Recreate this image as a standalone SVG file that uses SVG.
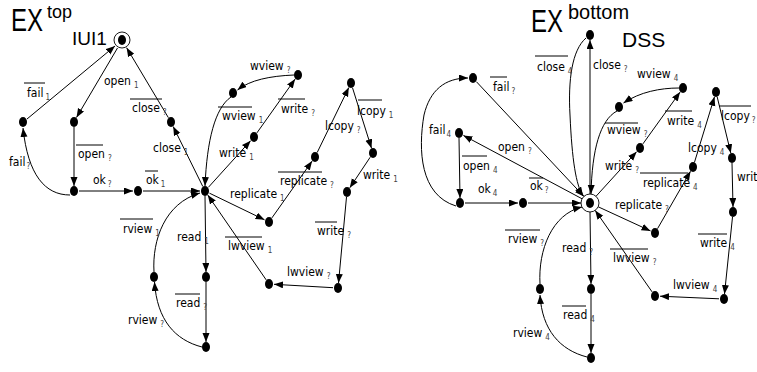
<svg xmlns="http://www.w3.org/2000/svg" width="757" height="372" viewBox="0 0 757 372">
<style>
.n{fill:#000}
.e{fill:none;stroke:#000;stroke-width:1;marker-end:url(#ah)}
.ring{fill:none;stroke:#000;stroke-width:0.9}
.lb{font-family:"Liberation Sans Narrow","Arial Narrow","DejaVu Sans Condensed",sans-serif;font-size:12px;fill:#000}
.sub{font-size:8px;fill:#444}
.ov{stroke:#000;stroke-width:1}
.tt{font-family:"Liberation Sans Narrow","Liberation Sans",Arial,sans-serif;fill:#000}
</style>
<defs>
<marker id="ah" markerWidth="10" markerHeight="8" refX="9" refY="3.5" orient="auto" markerUnits="userSpaceOnUse">
<path d="M0,0 L9,3.5 L0,7 z" fill="#000"/>
</marker>
</defs>
<rect width="757" height="372" fill="#fff"/>
<!-- titles -->
<g id="title-left">
<text class="tt" font-size="32"><tspan x="11" y="31" textLength="32" lengthAdjust="spacingAndGlyphs">EX</tspan><tspan x="47" y="18" font-size="18">top</tspan><tspan x="72" y="45" font-size="19">IUI1</tspan></text>
</g>
<g id="title-right">
<text class="tt" font-size="32"><tspan x="531" y="32" textLength="32" lengthAdjust="spacingAndGlyphs">EX</tspan><tspan x="568" y="19" font-size="20">bottom</tspan><tspan x="622" y="47" font-size="21">DSS</tspan></text>
</g>
<!-- connectors -->
<g id="connectors">
<!-- left -->
<path class="e" d="M27,119 L115,46"/>
<path class="e" d="M117.5,48 L76.5,117.5"/>
<path class="e" d="M168.4,117.7 L126.6,47.7"/>
<path class="e" d="M74,127 L74,186"/>
<path class="e" d="M70,195 C45,195 28,175 23,128"/>
<path class="e" d="M79,191 L133,191"/>
<path class="e" d="M143,191 L200,191"/>
<path class="e" d="M202.8,186.5 L173.2,126.5"/>
<path class="e" d="M231,97 C215,108 207,140 205,186"/>
<path class="e" d="M208.4,187.3 L250.6,140.7"/>
<path class="e" d="M256.9,132.9 L295.1,79.1"/>
<path class="e" d="M294,75 C270,76 250,80 237.5,90"/>
<path class="e" d="M209.5,193.2 L264.5,219.8"/>
<path class="e" d="M271.9,217.9 L312.1,161.1"/>
<path class="e" d="M317.2,152.5 L348.8,87.5"/>
<path class="e" d="M352.5,87.8 L371.5,148.2"/>
<path class="e" d="M370.2,157.2 L349.8,187.8"/>
<path class="e" d="M346.5,197 L338.5,283"/>
<path class="e" d="M333,287.7 L274,284.3"/>
<path class="e" d="M266.2,279.9 L207.8,195.1"/>
<path class="e" d="M205,196 L206,272"/>
<path class="e" d="M206,282 L206,342"/>
<path class="e" d="M202,347 C175,340 157,320 154.5,282"/>
<path class="e" d="M154,272 C152,240 165,203 200,193"/>
<!-- right -->
<path class="e" d="M590,194 L590,40"/>
<path class="e" d="M586,38 C572,50 568,80 570,115 C572,160 576,185 583,196"/>
<path class="e" d="M476.4,81.7 L583.9,196.4"/>
<path class="e" d="M456,206 C420,195 418,150 424,115 C430,90 445,78 468,78"/>
<path class="e" d="M582.1,198.8 L463.4,135.4"/>
<path class="e" d="M459,138 L460,198"/>
<path class="e" d="M465,203 L518,203"/>
<path class="e" d="M528,203 L581,203"/>
<path class="e" d="M617,111 C600,120 592,150 591,194"/>
<path class="e" d="M596,196.3 L636.6,151.7"/>
<path class="e" d="M642.9,143.9 L680.1,92.1"/>
<path class="e" d="M679,88 C660,88 640,92 623.5,103"/>
<path class="e" d="M598.2,206.8 L650.5,230.9"/>
<path class="e" d="M657.5,228.7 L690.5,171.3"/>
<path class="e" d="M694.5,162.2 L714.5,96.8"/>
<path class="e" d="M717.2,96.9 L730.8,153.1"/>
<path class="e" d="M732,163 L733,207"/>
<path class="e" d="M732.5,217 L724.5,294"/>
<path class="e" d="M719,298.8 L660,296.2"/>
<path class="e" d="M652.1,291.9 L595.2,210.4"/>
<path class="e" d="M590,212 L591,284"/>
<path class="e" d="M591,294 L591,353"/>
<path class="e" d="M587,357 C560,350 542,330 540,295"/>
<path class="e" d="M540,284 C538,250 552,214 582,207"/>
</g>
<!-- left nodes -->
<g id="L-init"><circle class="ring" cx="122" cy="40" r="8"/><ellipse class="n" cx="122" cy="40" rx="4" ry="5"/></g>
<g id="L-fail"><ellipse class="n" cx="23" cy="122" rx="4" ry="5"/></g>
<g id="L-open"><ellipse class="n" cx="74" cy="122" rx="4" ry="5"/></g>
<g id="L-close"><ellipse class="n" cx="171" cy="122" rx="4" ry="5"/></g>
<g id="L-ok"><ellipse class="n" cx="74" cy="191" rx="4" ry="5"/></g>
<g id="L-okmid"><ellipse class="n" cx="138" cy="191" rx="4" ry="5"/></g>
<g id="L-hub"><ellipse class="n" cx="205" cy="191" rx="4" ry="5"/></g>
<g id="L-wviewL"><ellipse class="n" cx="233" cy="93" rx="4" ry="5"/></g>
<g id="L-wviewT"><ellipse class="n" cx="298" cy="75" rx="4" ry="5"/></g>
<g id="L-write1"><ellipse class="n" cx="254" cy="137" rx="4" ry="5"/></g>
<g id="L-lcopyT"><ellipse class="n" cx="351" cy="83" rx="4" ry="5"/></g>
<g id="L-repmid"><ellipse class="n" cx="315" cy="157" rx="4" ry="5"/></g>
<g id="L-writeR"><ellipse class="n" cx="373" cy="153" rx="4" ry="5"/></g>
<g id="L-writeR2"><ellipse class="n" cx="347" cy="192" rx="4" ry="5"/></g>
<g id="L-rep"><ellipse class="n" cx="269" cy="222" rx="4" ry="5"/></g>
<g id="L-lwview"><ellipse class="n" cx="269" cy="284" rx="4" ry="5"/></g>
<g id="L-bottomR"><ellipse class="n" cx="338" cy="288" rx="4" ry="5"/></g>
<g id="L-rview"><ellipse class="n" cx="154" cy="277" rx="4" ry="5"/></g>
<g id="L-readmid"><ellipse class="n" cx="206" cy="277" rx="4" ry="5"/></g>
<g id="L-readbot"><ellipse class="n" cx="206" cy="347" rx="4" ry="5"/></g>
<!-- right nodes -->
<g id="R-closeT"><ellipse class="n" cx="590" cy="35" rx="4" ry="5"/></g>
<g id="R-failT"><ellipse class="n" cx="473" cy="78" rx="4" ry="5"/></g>
<g id="R-open"><ellipse class="n" cx="459" cy="133" rx="4" ry="5"/></g>
<g id="R-ok"><ellipse class="n" cx="460" cy="203" rx="4" ry="5"/></g>
<g id="R-okmid"><ellipse class="n" cx="523" cy="203" rx="4" ry="5"/></g>
<g id="R-hub"><circle class="ring" cx="590" cy="203" r="9"/><ellipse class="n" cx="590" cy="203" rx="4" ry="5"/></g>
<g id="R-wviewL"><ellipse class="n" cx="619" cy="107" rx="4" ry="5"/></g>
<g id="R-wviewT"><ellipse class="n" cx="683" cy="88" rx="4" ry="5"/></g>
<g id="R-write"><ellipse class="n" cx="640" cy="148" rx="4" ry="5"/></g>
<g id="R-lcopyT"><ellipse class="n" cx="716" cy="92" rx="4" ry="5"/></g>
<g id="R-repmid"><ellipse class="n" cx="693" cy="167" rx="4" ry="5"/></g>
<g id="R-writeR"><ellipse class="n" cx="732" cy="158" rx="4" ry="5"/></g>
<g id="R-writeR2"><ellipse class="n" cx="733" cy="212" rx="4" ry="5"/></g>
<g id="R-rep"><ellipse class="n" cx="655" cy="233" rx="4" ry="5"/></g>
<g id="R-lwview"><ellipse class="n" cx="655" cy="296" rx="4" ry="5"/></g>
<g id="R-bottomR"><ellipse class="n" cx="724" cy="299" rx="4" ry="5"/></g>
<g id="R-rview"><ellipse class="n" cx="540" cy="289" rx="4" ry="5"/></g>
<g id="R-readmid"><ellipse class="n" cx="591" cy="289" rx="4" ry="5"/></g>
<g id="R-readbot"><ellipse class="n" cx="591" cy="358" rx="4" ry="5"/></g>
<!-- left labels -->
<g id="labels-left">
<text class="lb" x="27" y="97">fail<tspan class="sub" dx="2" dy="3">1</tspan></text><line class="ov" x1="24" y1="83" x2="45" y2="83"/>
<text class="lb" x="104" y="85">open<tspan class="sub" dx="3" dy="3">1</tspan></text>
<text class="lb" x="132" y="112">close<tspan class="sub" dx="3" dy="3">?</tspan></text><line class="ov" x1="130" y1="99" x2="162" y2="99"/>
<text class="lb" x="78" y="158">open<tspan class="sub" dx="3" dy="3">?</tspan></text><line class="ov" x1="76" y1="145" x2="103" y2="145"/>
<text class="lb" x="9" y="166">fail<tspan class="sub" dx="1" dy="3">?</tspan></text>
<text class="lb" x="93" y="184">ok<tspan class="sub" dx="2" dy="3">?</tspan></text>
<text class="lb" x="146" y="184">ok<tspan class="sub" dx="2" dy="3">1</tspan></text><line class="ov" x1="145" y1="171" x2="158" y2="171"/>
<text class="lb" x="153" y="152">close<tspan class="sub" dx="3" dy="3">1</tspan></text>
<text class="lb" x="123" y="233">rview<tspan class="sub" dx="3" dy="3">1</tspan></text><line class="ov" x1="120" y1="219" x2="153" y2="219"/>
<text class="lb" x="177" y="241">read<tspan class="sub" dx="3" dy="3">1</tspan></text>
<text class="lb" x="222" y="120">wview<tspan class="sub" dx="3" dy="3">1</tspan></text><line class="ov" x1="218" y1="107" x2="252" y2="107"/>
<text class="lb" x="219" y="157">write<tspan class="sub" dx="3" dy="3">1</tspan></text>
<text class="lb" x="281" y="113">write<tspan class="sub" dx="3" dy="3">?</tspan></text><line class="ov" x1="278" y1="99" x2="305" y2="99"/>
<text class="lb" x="250" y="70">wview<tspan class="sub" dx="3" dy="3">?</tspan></text>
<text class="lb" x="230" y="198">replicate<tspan class="sub" dx="3" dy="3">1</tspan></text>
<text class="lb" x="280" y="185">replicate<tspan class="sub" dx="3" dy="3">?</tspan></text><line class="ov" x1="278" y1="172" x2="322" y2="172"/>
<text class="lb" x="325" y="130">lcopy<tspan class="sub" dx="3" dy="3">?</tspan></text>
<text class="lb" x="357" y="115">lcopy<tspan class="sub" dx="3" dy="3">1</tspan></text><line class="ov" x1="358" y1="100" x2="382" y2="100"/>
<text class="lb" x="363" y="179">write<tspan class="sub" dx="3" dy="3">1</tspan></text>
<text class="lb" x="317" y="235">write<tspan class="sub" dx="3" dy="3">?</tspan></text><line class="ov" x1="315" y1="222" x2="337" y2="222"/>
<text class="lb" x="228" y="250">lwview<tspan class="sub" dx="3" dy="3">1</tspan></text><line class="ov" x1="225" y1="237" x2="262" y2="237"/>
<text class="lb" x="287" y="276">lwview<tspan class="sub" dx="3" dy="3">?</tspan></text>
<text class="lb" x="176" y="307">read<tspan class="sub" dx="3" dy="3">?</tspan></text><line class="ov" x1="175" y1="294" x2="200" y2="294"/>
<text class="lb" x="128" y="324">rview<tspan class="sub" dx="3" dy="3">?</tspan></text>
</g>
<!-- right labels -->
<g id="labels-right">
<text class="lb" x="537" y="71">close<tspan class="sub" dx="3" dy="3">4</tspan></text><line class="ov" x1="535" y1="56" x2="568" y2="56"/>
<text class="lb" x="593" y="69">close<tspan class="sub" dx="3" dy="3">?</tspan></text>
<text class="lb" x="493" y="91">fail<tspan class="sub" dx="2" dy="3">?</tspan></text><line class="ov" x1="490" y1="77" x2="507" y2="77"/>
<text class="lb" x="429" y="134">fail<tspan class="sub" dx="1" dy="3">4</tspan></text>
<text class="lb" x="498" y="151">open<tspan class="sub" dx="3" dy="3">?</tspan></text>
<text class="lb" x="463" y="170">open<tspan class="sub" dx="3" dy="3">4</tspan></text><line class="ov" x1="462" y1="156" x2="487" y2="156"/>
<text class="lb" x="478" y="193">ok<tspan class="sub" dx="2" dy="3">4</tspan></text>
<text class="lb" x="530" y="190">ok<tspan class="sub" dx="2" dy="3">?</tspan></text><line class="ov" x1="529" y1="178" x2="543" y2="178"/>
<text class="lb" x="508" y="243">rview<tspan class="sub" dx="3" dy="3">?</tspan></text><line class="ov" x1="505" y1="230" x2="540" y2="230"/>
<text class="lb" x="562" y="252">read<tspan class="sub" dx="3" dy="3">?</tspan></text>
<text class="lb" x="637" y="78">wview<tspan class="sub" dx="3" dy="3">4</tspan></text>
<text class="lb" x="607" y="134">wview<tspan class="sub" dx="3" dy="3">?</tspan></text><line class="ov" x1="605" y1="123" x2="638" y2="123"/>
<text class="lb" x="667" y="125">write<tspan class="sub" dx="3" dy="3">4</tspan></text><line class="ov" x1="665" y1="111" x2="692" y2="111"/>
<text class="lb" x="605" y="170">write<tspan class="sub" dx="3" dy="3">?</tspan></text>
<text class="lb" x="688" y="152">lcopy<tspan class="sub" dx="3" dy="3">4</tspan></text>
<text class="lb" x="721" y="120">lcopy<tspan class="sub" dx="2" dy="3">?</tspan></text><line class="ov" x1="719" y1="106" x2="751" y2="106"/>
<text class="lb" x="737" y="181">write<tspan class="sub" dx="3" dy="3">?</tspan></text>
<text class="lb" x="643" y="187">replicate<tspan class="sub" dx="3" dy="3">4</tspan></text><line class="ov" x1="640" y1="173" x2="688" y2="173"/>
<text class="lb" x="615" y="209">replicate<tspan class="sub" dx="3" dy="3">?</tspan></text>
<text class="lb" x="700" y="247">write<tspan class="sub" dx="3" dy="3">4</tspan></text><line class="ov" x1="698" y1="234" x2="727" y2="234"/>
<text class="lb" x="613" y="262">lwview<tspan class="sub" dx="3" dy="3">?</tspan></text><line class="ov" x1="610" y1="249" x2="648" y2="249"/>
<text class="lb" x="673" y="289">lwview<tspan class="sub" dx="3" dy="3">4</tspan></text>
<text class="lb" x="563" y="319">read<tspan class="sub" dx="3" dy="3">4</tspan></text><line class="ov" x1="562" y1="306" x2="586" y2="306"/>
<text class="lb" x="513" y="337">rview<tspan class="sub" dx="3" dy="3">4</tspan></text>
</g>
</svg>
